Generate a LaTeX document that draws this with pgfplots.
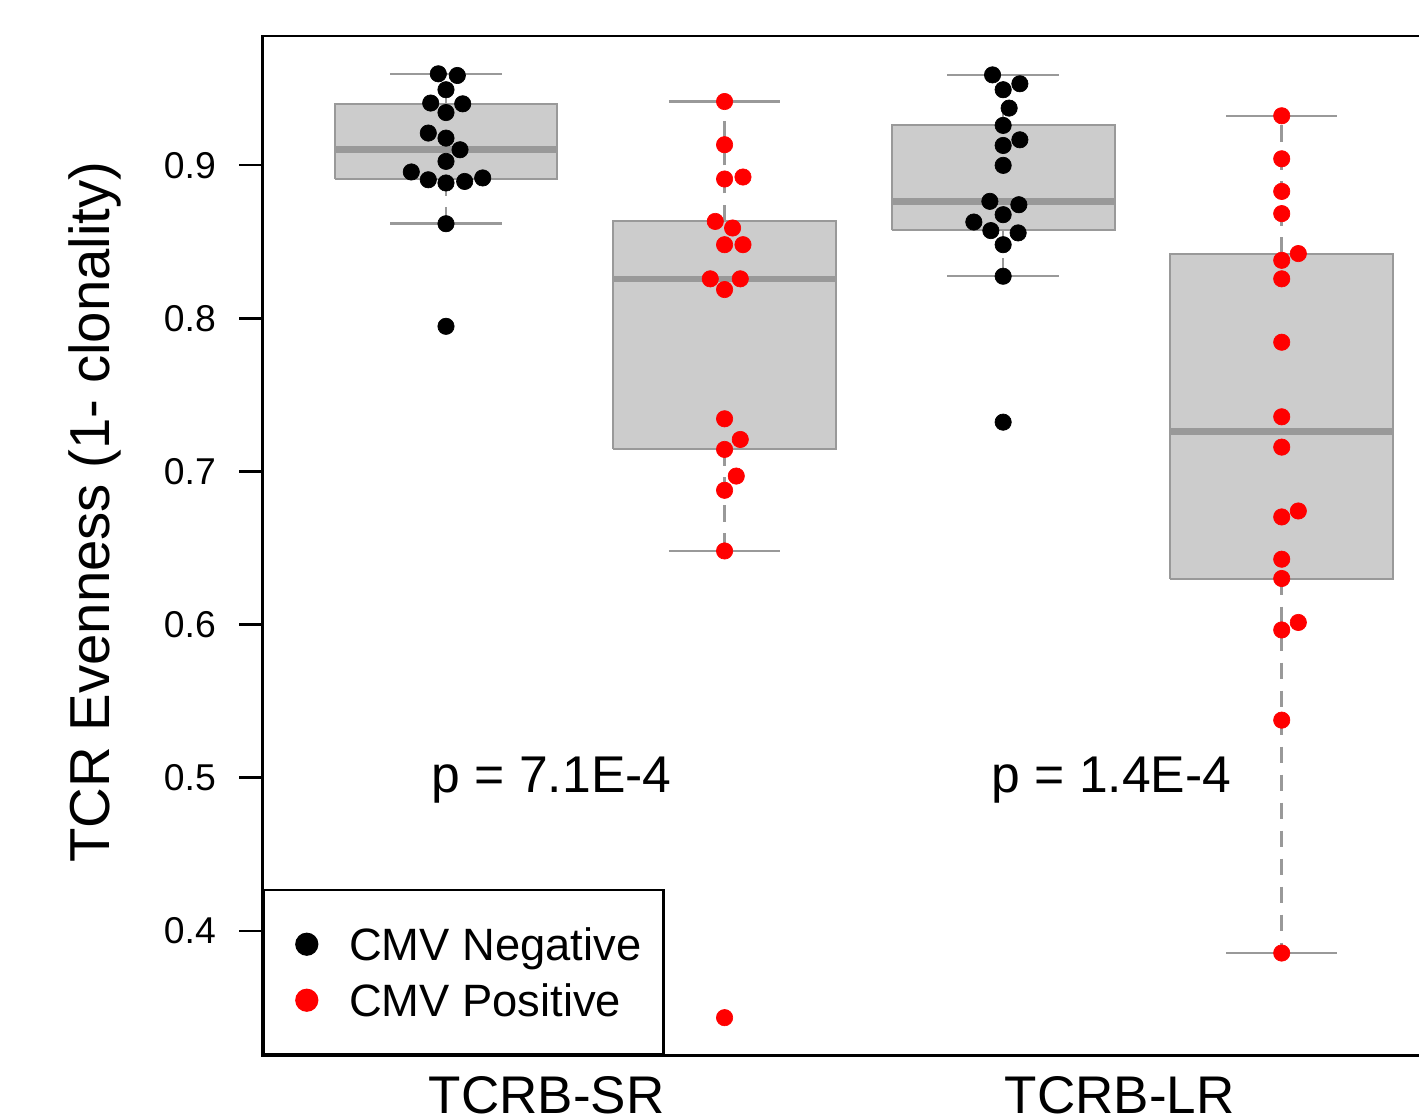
\documentclass[border=0pt]{standalone}
\usepackage{fontspec}
\setmainfont{Liberation Sans}
\usepackage{pgfplots}
\pgfplotsset{compat=1.18}

\definecolor{boxfill}{HTML}{CCCCCC}
\definecolor{boxline}{HTML}{999999}
\definecolor{cmvpos}{HTML}{FF0000}

\pgfplotsset{
  dots/.style={only marks, mark=*, mark size=2.45pt, mark options={draw=#1, fill=#1, line width=0.2pt}, forget plot},
  boxst/.style={fill=boxfill, draw=boxline, line width=0.6pt, forget plot},
  medst/.style={draw=boxline, line width=2pt, forget plot},
  whisk/.style={draw=boxline, line width=0.75pt, dash pattern=on 5pt off 3.4pt, forget plot},
  capst/.style={draw=boxline, line width=0.75pt, forget plot},
}

\begin{document}
\begin{tikzpicture}
\begin{axis}[
  name=ax,
  scale only axis,
  width=347.55pt, height=305.85pt,
  xmin=0.3413, xmax=4.5,
  ymin=0.3186, ymax=0.9844,
  axis line style={line width=0.75pt},
  xtick={1.361,3.418},
  xticklabels={TCRB-SR,TCRB-LR},
  xtick style={draw=none},
  x tick label style={font=\fontsize{15.9}{19}\selectfont, anchor=north, inner sep=0pt, yshift=0.75pt},
  ytick={0.4,0.5,0.6,0.7,0.8,0.9},
  yticklabels={0.4,0.5,0.6,0.7,0.8,0.9},
  ytick style={black, line width=0.75pt},
  tick align=outside, major tick length=6.9pt,
  tick pos=left,
  y tick label style={font=\fontsize{11.2}{13.4}\selectfont, anchor=east, inner sep=0pt, xshift=-6.9pt},
  ylabel={TCR Evenness (1- clonality)},
  ylabel style={font=\fontsize{16.9}{20}\selectfont, at={(axis description cs:-0.1319,0.533)}, anchor=base},
  legend style={at={(0,0)}, anchor=south west, draw=black, line width=0.75pt,
    inner xsep=6.6pt, inner ysep=11.3pt, row sep=7pt, column sep=9.2pt,
    font=\fontsize{13.6}{16}\selectfont,
    nodes={inner sep=0pt, text height=9.8pt, text depth=0pt, anchor=west}},
  legend image code/.code={\path (-5.94pt,0pt); \fill[#1] (0pt,0pt) circle (3.1pt);},
]
  % boxes: Q1/Q3 rectangles, medians, whiskers, caps
  \addplot[boxst] coordinates {(0.6,0.8910) (1.4,0.8910) (1.4,0.9401) (0.6,0.9401) (0.6,0.8910)};
  \addplot[boxst] coordinates {(1.6,0.7144) (2.4,0.7144) (2.4,0.8633) (1.6,0.8633) (1.6,0.7144)};
  \addplot[boxst] coordinates {(2.6,0.8575) (3.4,0.8575) (3.4,0.9260) (2.6,0.9260) (2.6,0.8575)};
  \addplot[boxst] coordinates {(3.6,0.6301) (4.4,0.6301) (4.4,0.8423) (3.6,0.8423) (3.6,0.6301)};

  \addplot[medst] coordinates {(0.6,0.9101) (1.4,0.9101)};
  \addplot[medst] coordinates {(1.6,0.8258) (2.4,0.8258)};
  \addplot[medst] coordinates {(2.6,0.8764) (3.4,0.8764)};
  \addplot[medst] coordinates {(3.6,0.7260) (4.4,0.7260)};

  \addplot[whisk] coordinates {(1,0.9401) (1,0.9597)};
  \addplot[whisk] coordinates {(1,0.8910) (1,0.8618)};
  \addplot[whisk] coordinates {(2,0.8633) (2,0.9416)};
  \addplot[whisk] coordinates {(2,0.7144) (2,0.6481)};
  \addplot[whisk] coordinates {(3,0.9260) (3,0.9590)};
  \addplot[whisk] coordinates {(3,0.8575) (3,0.8275)};
  \addplot[whisk] coordinates {(4,0.8423) (4,0.9323)};
  \addplot[whisk] coordinates {(4,0.6301) (4,0.3855)};

  \addplot[capst] coordinates {(0.8,0.9597) (1.2,0.9597)};
  \addplot[capst] coordinates {(0.8,0.8618) (1.2,0.8618)};
  \addplot[capst] coordinates {(1.8,0.9416) (2.2,0.9416)};
  \addplot[capst] coordinates {(1.8,0.6481) (2.2,0.6481)};
  \addplot[capst] coordinates {(2.8,0.9590) (3.2,0.9590)};
  \addplot[capst] coordinates {(2.8,0.8275) (3.2,0.8275)};
  \addplot[capst] coordinates {(3.8,0.9323) (4.2,0.9323)};
  \addplot[capst] coordinates {(3.8,0.3855) (4.2,0.3855)};

  % beeswarm points
  \addplot[dots=black] coordinates {
    (0.9724,0.9597) (1.0406,0.9586) (1,0.9493) (0.9451,0.9406) (1.0600,0.9401)
    (1,0.9344) (0.9365,0.9210) (1,0.9177) (1.0503,0.9101) (1,0.9025)
    (0.8754,0.8956) (0.9365,0.8905) (1,0.8884) (1.0671,0.8894) (1.1317,0.8917)
    (1,0.8618) (1,0.7948)
  };
  \addplot[dots=cmvpos] coordinates {
    (2,0.9416) (2,0.9134) (2,0.8910) (2.0661,0.8923) (1.9666,0.8633)
    (2.0287,0.8590) (2,0.8481) (2.0661,0.8481) (1.9487,0.8258) (2.0564,0.8258)
    (2,0.8188) (2,0.7344) (2.0564,0.7209) (2,0.7144) (2.0420,0.6970)
    (2,0.6877) (2,0.6481) (2,0.3433)
  };
  \addplot[dots=black] coordinates {
    (2.9619,0.9590) (3.0600,0.9532) (3,0.9493) (3.0215,0.9373) (3,0.9260)
    (3.0600,0.9166) (3,0.9129) (3,0.8999) (2.9523,0.8764) (3.0564,0.8742)
    (3,0.8677) (2.8948,0.8629) (2.9558,0.8573) (3.0538,0.8558) (3,0.8481)
    (3,0.8275) (3,0.7322)
  };
  \addplot[dots=cmvpos] coordinates {
    (4,0.9323) (4,0.9042) (4,0.8829) (4,0.8684) (4.0596,0.8423)
    (4,0.8379) (4,0.8258) (4,0.7844) (4,0.7357) (4,0.7159)
    (4.0596,0.6742) (4,0.6703) (4,0.6427) (4,0.6301) (4.0596,0.6014)
    (4,0.5965) (4,0.5376) (4,0.3855)
  };

  \node[font=\fontsize{15.5}{18}\selectfont, anchor=base] at (axis cs:1.379,0.4905) {p = 7.1E-4};
  \node[font=\fontsize{15.5}{18}\selectfont, anchor=base] at (axis cs:3.389,0.4905) {p = 1.4E-4};

  \addlegendimage{black}
  \addlegendentry{CMV Negative}
  \addlegendimage{cmvpos}
  \addlegendentry{CMV Positive}
\end{axis}
\pgfresetboundingbox
\path[use as bounding box] ([shift={(-78.75pt,-19.35pt)}]ax.south west) rectangle ([shift={(346.95pt,316.65pt)}]ax.south west);
\end{tikzpicture}
\end{document}
